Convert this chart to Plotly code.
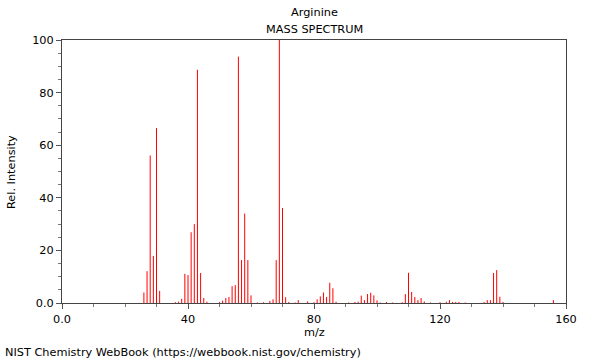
import plotly.graph_objects as go

# m/z values and relative intensities
mz = [26, 27, 28, 29, 30, 31, 36, 37, 38, 39, 40, 41, 42, 43, 44, 45, 46,
      50, 51, 52, 53, 54, 55, 56, 57, 58, 59, 60, 62, 64, 66, 67, 68, 69, 70,
      71, 72, 74, 75, 78, 80, 81, 82, 83, 84, 85, 86, 87, 91, 93, 94, 95, 96,
      97, 98, 99, 100, 101, 103, 105, 108, 109, 110, 111, 112, 113, 114, 115,
      117, 120, 122, 123, 124, 125, 126, 128, 134, 135, 136, 137, 138, 139,
      140, 156]
intensity = [4.0, 12.1, 56.1, 17.9, 66.5, 4.6, 0.3, 0.5, 1.6, 11.1, 10.6, 26.9,
             30.0, 88.7, 11.4, 1.9, 0.5,
             0.3, 0.9, 1.9, 2.3, 6.4, 6.8, 93.7, 16.3, 34.0, 16.3, 2.9, 0.2, 0.3,
             0.8, 1.4, 16.3, 100.0, 36.1,
             2.2, 0.4, 0.2, 1.1, 0.6, 0.3, 1.4, 2.5, 4.0, 2.3, 7.7, 5.6, 0.5, 0.2,
             0.4, 0.5, 2.8, 1.1,
             3.4, 3.9, 2.9, 1.0, 0.2, 0.4, 0.2, 0.3, 3.4, 11.5, 4.2, 2.3, 1.1, 1.9,
             0.6,
             0.2, 0.3, 0.5, 1.1, 0.4, 0.4, 0.4, 0.2, 0.4, 1.1, 1.1, 11.4, 12.5, 2.4,
             0.4, 1.1]

x_tickvals = [0, 40, 80, 120, 160]
x_ticktext = ["0.0", "40", "80", "120", "160"]
y_tickvals = [0, 20, 40, 60, 80, 100]
y_ticktext = ["0.0", "20", "40", "60", "80", "100"]

title_name = "Arginine"
title_sub = "MASS SPECTRUM"
x_title = "m/z"
y_title = "Rel. Intensity"
footnote = "NIST Chemistry WebBook (https://webbook.nist.gov/chemistry)"

# stick spectrum: vertical segment per peak
xs, ys = [], []
for m, v in zip(mz, intensity):
    xs += [m, m, None]
    ys += [0, v, None]

FONT = "DejaVu Sans"
FS = 11.3
fig = go.Figure(go.Scatter(x=xs, y=ys, mode="lines",
                           line=dict(color="#ff0000", width=1),
                           hoverinfo="skip", showlegend=False))

L, R, T, B = 62, 34, 40, 57
W, H = 600, 360
ph = H - T - B

def py(ypx):
    return (H - B - ypx) / ph

def px(xpx):
    return (xpx - L) / (W - L - R)

fig.update_layout(
    width=W, height=H,
    margin=dict(l=L, r=R, t=T, b=B),
    paper_bgcolor="white", plot_bgcolor="white",
    font=dict(family=FONT, size=FS, color="#000000"),
    xaxis=dict(range=[0, 160], tickvals=x_tickvals, ticktext=x_ticktext,
               ticks="outside", ticklen=5, tickcolor="#555555",
               showline=True, linecolor="#444444", linewidth=1, mirror=True,
               showgrid=False, zeroline=False,
               tickfont=dict(size=FS),
               minor=dict(dtick=10, tick0=0, ticks="outside", ticklen=3,
                          tickcolor="#777777", showgrid=False)),
    yaxis=dict(range=[0, 100], tickvals=y_tickvals, ticktext=y_ticktext,
               ticks="outside", ticklen=5, tickcolor="#555555",
               showline=True, linecolor="#444444", linewidth=1, mirror=True,
               showgrid=False, zeroline=False,
               tickfont=dict(size=FS),
               minor=dict(dtick=5, tick0=0, ticks="outside", ticklen=3,
                          tickcolor="#777777", showgrid=False)),
    annotations=[
        dict(text=title_name, x=0.5, y=py(13), xref="paper", yref="paper",
             showarrow=False, xanchor="center", yanchor="middle",
             font=dict(size=FS)),
        dict(text=title_sub, x=0.5, y=py(30), xref="paper", yref="paper",
             showarrow=False, xanchor="center", yanchor="middle",
             font=dict(size=FS)),
        dict(text=x_title, x=0.5, y=py(332), xref="paper", yref="paper",
             showarrow=False, xanchor="center", yanchor="middle",
             font=dict(size=FS)),
        dict(text=y_title, x=px(11), y=py(172), xref="paper", yref="paper",
             showarrow=False, xanchor="center", yanchor="middle",
             textangle=-90, font=dict(size=FS)),
        dict(text=footnote, x=px(3), y=py(352), xref="paper", yref="paper",
             showarrow=False, xanchor="left", yanchor="middle",
             font=dict(size=FS)),
    ],
)

fig.write_html("out.html",
               config={"displayModeBar": False},
               post_script="document.body.style.margin='0';"
                           "document.body.style.padding='0';")
